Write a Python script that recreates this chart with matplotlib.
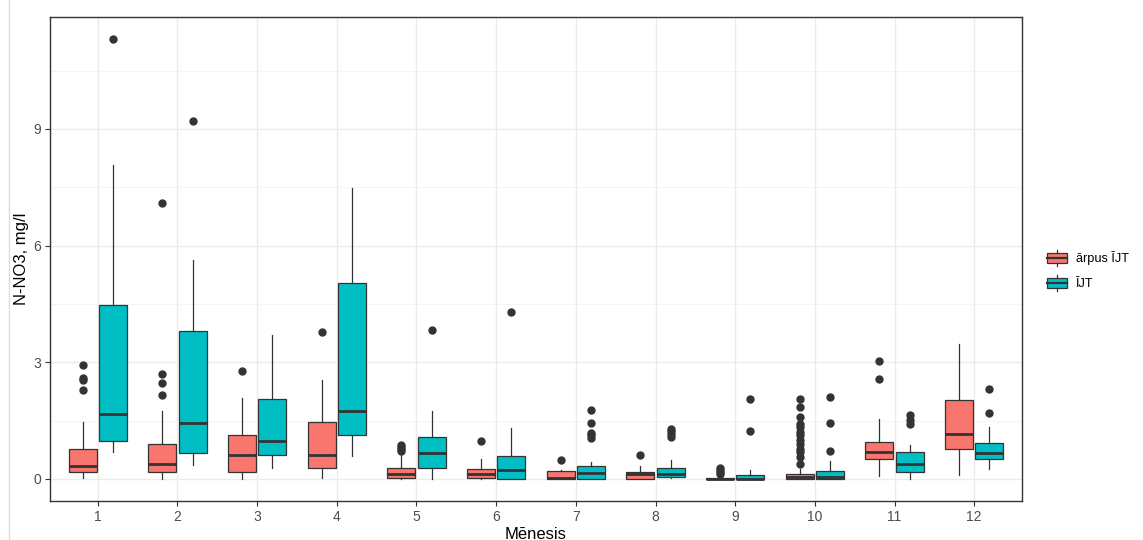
import matplotlib
matplotlib.use('Agg')
import matplotlib.pyplot as plt
from matplotlib.patches import Rectangle
from matplotlib.lines import Line2D
from matplotlib.legend_handler import HandlerBase

plt.rcParams['font.family'] = ['Liberation Sans', 'DejaVu Sans']

months = ['1', '2', '3', '4', '5', '6', '7', '8', '9', '10', '11', '12']
groups = ['ārpus ĪJT', 'ĪJT']
colors = ['#F8766D', '#00BFC4']

# arpus IJT (red)
red_low = [0.03, 0.00, 0.00, 0.03, 0.00, 0.00, 0.00, 0.00, 0.00, 0.00, 0.07, 0.11]
red_q1 = [0.19, 0.19, 0.19, 0.27, 0.03, 0.03, 0.00, 0.00, 0.00, 0.00, 0.52, 0.78]
red_med = [0.33, 0.38, 0.62, 0.62, 0.14, 0.12, 0.03, 0.12, 0.00, 0.04, 0.69, 1.16]
red_q3 = [0.76, 0.90, 1.12, 1.47, 0.29, 0.25, 0.20, 0.17, 0.03, 0.14, 0.96, 2.02]
red_high = [1.47, 1.74, 2.07, 2.55, 0.65, 0.51, 0.23, 0.33, 0.06, 0.26, 1.53, 3.47]
red_out = [[2.28, 2.55, 2.59, 2.94],
           [2.17, 2.48, 2.71, 7.09],
           [2.77],
           [3.79],
           [0.72, 0.78, 0.83, 0.87],
           [0.97],
           [0.48],
           [0.61],
           [0.13, 0.18, 0.22, 0.27],
           [0.39, 0.56, 0.69, 0.78, 0.91, 0.99, 1.12, 1.21, 1.34, 1.42, 1.59, 1.84, 2.05],
           [2.58, 3.03],
           []]

# IJT (cyan)
cyan_low = [0.69, 0.35, 0.27, 0.58, 0.00, 0.00, 0.00, 0.02, 0.00, 0.00, 0.00, 0.25]
cyan_q1 = [0.98, 0.66, 0.62, 1.12, 0.27, 0.00, 0.00, 0.06, 0.00, 0.00, 0.18, 0.52]
cyan_med = [1.67, 1.45, 0.98, 1.76, 0.66, 0.22, 0.16, 0.14, 0.00, 0.06, 0.39, 0.66]
cyan_q3 = [4.48, 3.80, 2.05, 5.05, 1.09, 0.60, 0.34, 0.28, 0.11, 0.20, 0.69, 0.93]
cyan_high = [8.08, 5.62, 3.71, 7.49, 1.76, 1.32, 0.43, 0.49, 0.24, 0.47, 0.87, 1.34]
cyan_out = [[11.31],
            [9.20],
            [],
            [],
            [3.82],
            [4.30],
            [1.05, 1.12, 1.18, 1.43, 1.77],
            [1.08, 1.16, 1.23, 1.28],
            [1.23, 2.05],
            [0.73, 1.43, 2.10],
            [1.42, 1.51, 1.64],
            [1.69, 2.32]]


def make_stats(low, q1, med, q3, high, out):
    st = []
    for i in range(len(med)):
        st.append({'whislo': low[i], 'q1': q1[i], 'med': med[i],
                   'q3': q3[i], 'whishi': high[i], 'fliers': out[i]})
    return st


stats = [make_stats(red_low, red_q1, red_med, red_q3, red_high, red_out),
         make_stats(cyan_low, cyan_q1, cyan_med, cyan_q3, cyan_high, cyan_out)]

W, H = 1143, 540
fig = plt.figure(figsize=(W / 100, H / 100), dpi=100)
ax = fig.add_axes([50 / W, (H - 501) / H, 972 / W, 484 / H])

dark = '#333333'
offsets = [-0.19, 0.19]
for g in range(2):
    pos = [i + 1 + offsets[g] for i in range(len(months))]
    ax.bxp(stats[g], positions=pos, widths=0.35, patch_artist=True,
           showcaps=False,
           boxprops=dict(facecolor=colors[g], edgecolor=dark, linewidth=0.9),
           medianprops=dict(color=dark, linewidth=2.0),
           whiskerprops=dict(color=dark, linewidth=0.9),
           flierprops=dict(marker='o', markerfacecolor=dark, markeredgecolor=dark,
                           markersize=5, linestyle='none'),
           zorder=3)

ax.set_xlim(0.4, 12.6)
ax.set_ylim(-0.566, 11.876)
ax.set_xticks(range(1, 13))
ax.set_xticklabels(months)
ax.set_yticks([0, 3, 6, 9])
ax.set_yticklabels(['0', '3', '6', '9'])
ax.set_yticks([1.5, 4.5, 7.5, 10.5], minor=True)
ax.grid(True, which='major', color='#EBEBEB', linewidth=1.0, zorder=0)
ax.grid(True, which='minor', axis='y', color='#F2F2F2', linewidth=0.6, zorder=0)
ax.set_axisbelow(True)
ax.tick_params(axis='both', which='major', length=3.5, width=0.8, color=dark,
               labelcolor='#4D4D4D', labelsize=10, pad=3)
ax.tick_params(axis='y', which='minor', length=0)
for s in ax.spines.values():
    s.set_color(dark)
    s.set_linewidth(1.0)

ax.set_xlabel('Mēnesis', fontsize=12, color='black', labelpad=2)
ax.set_ylabel('N-NO3, mg/l', fontsize=12, color='black', labelpad=3)


class BoxHandler(HandlerBase):
    def __init__(self, color):
        super().__init__()
        self.color = color

    def create_artists(self, legend, orig_handle, xdescent, ydescent, width, height, fontsize, trans):
        cx = width / 2 - xdescent
        h = height * 1.5
        y0 = -ydescent + height / 2 - h / 2
        r = Rectangle((-xdescent, y0 + h * 0.2), width, h * 0.6, facecolor=self.color,
                      edgecolor=dark, linewidth=0.9, transform=trans)
        m = Line2D([-xdescent, -xdescent + width], [y0 + h / 2, y0 + h / 2], color=dark,
                   linewidth=1.6, transform=trans)
        w1 = Line2D([cx, cx], [y0, y0 + h * 0.2], color=dark, linewidth=0.9, transform=trans)
        w2 = Line2D([cx, cx], [y0 + h * 0.8, y0 + h], color=dark, linewidth=0.9, transform=trans)
        return [r, m, w1, w2]


handles = [Rectangle((0, 0), 1, 1), Rectangle((1, 1), 1, 1)]
fig.legend(handles, groups, loc='center left', bbox_to_anchor=(1047 / W, 1 - 271 / H),
           frameon=False, fontsize=9.2, handlelength=1.55, handleheight=0.95,
           handletextpad=0.75, labelspacing=0.95, borderpad=0, borderaxespad=0,
           handler_map={handles[0]: BoxHandler(colors[0]), handles[1]: BoxHandler(colors[1])})

fig.add_artist(Line2D([8.5 / W, 8.5 / W], [0, 1], color='#DDDDDD', linewidth=1.0))

fig.savefig('out.png', dpi=100)
